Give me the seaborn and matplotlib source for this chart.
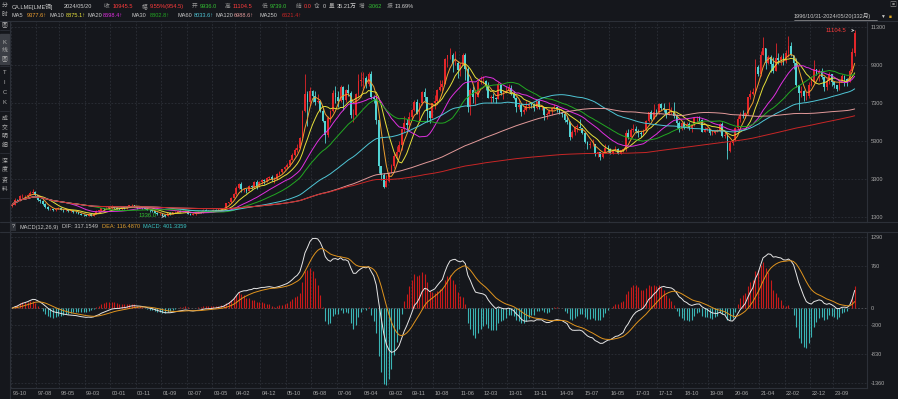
import numpy as np
import pandas as pd
import matplotlib
matplotlib.use('Agg')
import matplotlib.pyplot as plt
import seaborn as sns

# Monthly LME copper bars, 1996-10 .. 2024-05
closes = [
    1950, 2230, 2200,
    2400, 2400, 2400, 2450, 2600, 2650, 2450, 2200, 2150, 2000, 1850, 1720,
    1720, 1680, 1760, 1800, 1700, 1660, 1680, 1620, 1650, 1600, 1580, 1480,
    1430, 1420, 1390, 1470, 1370, 1480, 1640, 1640, 1780, 1740, 1800, 1810,
    1850, 1780, 1760, 1720, 1830, 1790, 1860, 1940, 1950, 1880, 1800, 1820,
    1780, 1740, 1680, 1660, 1620, 1540, 1470, 1480, 1420, 1370, 1500, 1480,
    1560, 1600, 1630, 1600, 1620, 1640, 1490, 1440, 1450, 1570, 1600, 1560,
    1690, 1640, 1590, 1610, 1680, 1650, 1720, 1780, 1800, 2050, 2080, 2320,
    2500, 2850, 3050, 2760, 2760, 2700, 2930, 2900, 3150, 2920, 3170, 3250,
    3200, 3350, 3400, 3290, 3300, 3590, 3700, 3820, 3950, 4070, 4330, 4580,
    4850, 4920, 5470, 6880, 7770, 7350, 7900, 7660, 7350, 7400, 6880, 6350,
    5600, 6500, 6900, 7800, 7600, 7420, 8150, 7450, 8000, 7800, 6650, 6680,
    7750, 8450, 8500, 8600, 8300, 8800, 7600, 7520, 6400, 4000, 3500, 2900,
    3200, 3650, 4000, 4500, 4750, 5100, 5950, 6260, 6150, 6560, 6950, 7350,
    6720, 7300, 7880, 7610, 6900, 6500, 7300, 7410, 8000, 8150, 8300, 9600,
    9800, 9800, 9380, 9400, 9050, 9300, 9800, 9100, 7100, 8000, 7600, 7600,
    8400, 8450, 8450, 8250, 7550, 7600, 7550, 7500, 8300, 7800, 7800, 7900,
    8100, 7750, 7550, 7100, 7200, 6800, 6950, 7150, 7250, 7200, 7050, 7400,
    7100, 7100, 6650, 6700, 6900, 7050, 7100, 7000, 6750, 6700, 6400, 6300,
    5500, 5800, 6050, 6050, 6000, 5720, 5250, 5100, 5150, 5150, 4600, 4700,
    4480, 4680, 4950, 4900, 4680, 4840, 4900, 4620, 4820, 4860, 5700, 5500,
    5900, 5950, 5850, 5700, 5650, 5900, 6350, 6800, 6450, 6850, 6800, 7250,
    7050, 6950, 6700, 6850, 6850, 6600, 6250, 5950, 6250, 5980, 6200, 5980,
    6150, 6500, 6500, 6400, 5800, 5950, 5950, 5700, 5700, 5850, 5900, 6170,
    5560, 5630, 4800, 5200, 5380, 6000, 6450, 6680, 6620, 6750, 7600, 7750,
    7850, 9200, 8800, 9800, 10200, 9400, 9700, 9350, 8950, 9650, 9550, 9700,
    9500, 9900, 10300, 9800, 9400, 8250, 7800, 7950, 7650, 7650, 8250, 8400,
    9100, 8850, 8950, 8650, 8150, 8450, 8800, 8400, 8250, 8050, 8450, 8720,
    8540, 8440, 8960, 9991, 10945.5,
]
highs = [
    2050, 2300, 2280,
    2480, 2500, 2480, 2520, 2700, 2760, 2680, 2480, 2280, 2200, 2050, 1880,
    1800, 1750, 1800, 1860, 1820, 1720, 1740, 1700, 1700, 1680, 1640, 1600,
    1520, 1480, 1450, 1500, 1480, 1500, 1680, 1700, 1800, 1810, 1850, 1860,
    1920, 1880, 1820, 1800, 1850, 1840, 1880, 1960, 2000, 1960, 1900, 1860,
    1850, 1820, 1760, 1720, 1720, 1640, 1580, 1520, 1500, 1430, 1540, 1560,
    1580, 1640, 1680, 1660, 1660, 1700, 1660, 1500, 1520, 1590, 1650, 1640,
    1720, 1730, 1690, 1640, 1720, 1720, 1760, 1800, 1820, 2070, 2120, 2340,
    2560, 2930, 3100, 3170, 2860, 2800, 3000, 2980, 3210, 3250, 3180, 3300,
    3310, 3400, 3450, 3500, 3430, 3640, 3750, 3860, 4000, 4150, 4360, 4650,
    4950, 5130, 5500, 6950, 8800, 7900, 8150, 8000, 7900, 7750, 7400, 7050,
    6350, 6600, 6950, 8000, 8200, 7900, 8250, 8200, 8050, 8300, 7900, 7000,
    7800, 8800, 8900, 8900, 8700, 8900, 8950, 7700, 7600, 6350, 4000, 3600,
    3500, 3700, 4100, 4650, 5050, 5300, 5950, 6600, 6450, 6800, 7000, 7450,
    7500, 7300, 7900, 8100, 7600, 6900, 7300, 7700, 8050, 8500, 8500, 9650,
    9800, 10190, 9900, 10050, 9500, 9400, 9900, 9900, 9200, 8100, 8200, 7900,
    8500, 8700, 8700, 8500, 8400, 7700, 7800, 7600, 8400, 8300, 8000, 8200,
    8300, 8250, 7900, 7600, 7500, 7300, 7100, 7400, 7350, 7350, 7300, 7400,
    7450, 7200, 7100, 6850, 7000, 7100, 7250, 7150, 7000, 6800, 6800, 6600,
    6350, 5900, 6100, 6200, 6450, 6000, 5800, 5300, 5320, 5400, 5100, 4740,
    4700, 4750, 5150, 5100, 4950, 4900, 5050, 4950, 4850, 4900, 5900, 5950,
    6000, 6200, 6100, 5950, 5850, 5950, 6400, 6850, 6950, 7250, 7000, 7300,
    7300, 7300, 7000, 7350, 7100, 7350, 6700, 6350, 6300, 6350, 6300, 6300,
    6200, 6550, 6600, 6600, 6450, 6050, 6050, 5950, 5900, 5900, 5950, 6250,
    6300, 5800, 5700, 5300, 5400, 6050, 6600, 6850, 6950, 6800, 7600, 8000,
    8100, 9600, 9300, 10050, 10750, 10200, 9800, 9800, 9700, 10450, 9900, 9800,
    9900, 10100, 10800, 10500, 9700, 9650, 8100, 8200, 8000, 7850, 8400, 8700,
    9550, 9100, 9100, 9150, 8600, 8600, 8900, 8700, 8450, 8100, 8500, 8800,
    8750, 8600, 9100, 10200, 11104.5,
]
lows = [
    1820, 1940, 2100,
    2180, 2300, 2320, 2340, 2420, 2520, 2400, 2150, 2050, 1960, 1800, 1700,
    1660, 1620, 1640, 1730, 1680, 1580, 1620, 1580, 1580, 1540, 1540, 1460,
    1400, 1380, 1350, 1380, 1360, 1370, 1470, 1580, 1620, 1700, 1720, 1740,
    1760, 1740, 1720, 1680, 1700, 1740, 1760, 1850, 1880, 1840, 1760, 1770,
    1720, 1720, 1660, 1600, 1600, 1520, 1440, 1410, 1390, 1336, 1360, 1440,
    1460, 1520, 1560, 1560, 1570, 1580, 1460, 1400, 1410, 1440, 1540, 1530,
    1540, 1620, 1560, 1560, 1600, 1620, 1630, 1700, 1730, 1790, 1990, 2060,
    2300, 2470, 2760, 2650, 2650, 2550, 2680, 2760, 2860, 2800, 2910, 3050,
    3070, 3150, 3300, 3200, 3080, 3260, 3500, 3640, 3760, 3890, 4000, 4300,
    4500, 4750, 4920, 5450, 6850, 6100, 7200, 7350, 7200, 7300, 6850, 6280,
    5200, 5500, 6300, 6850, 7300, 7100, 7350, 6950, 7350, 7650, 6500, 6300,
    6600, 7600, 8200, 8100, 8100, 8200, 7500, 7300, 6200, 3650, 3250, 2820,
    2900, 3150, 3700, 3900, 4350, 4800, 4850, 5800, 5900, 5950, 6400, 6900,
    6700, 6300, 7200, 7400, 6300, 6250, 6500, 7000, 7300, 7900, 7950, 8300,
    9200, 9600, 8900, 9300, 8600, 8700, 9300, 8500, 6800, 6650, 7300, 7200,
    7600, 8300, 8300, 8000, 7550, 7300, 7350, 7300, 7500, 7700, 7500, 7800,
    7850, 7700, 7500, 6800, 7000, 6600, 6700, 6900, 7000, 7050, 6900, 7000,
    7000, 6950, 6400, 6450, 6700, 6650, 7000, 6800, 6700, 6550, 6300, 6200,
    5350, 5450, 5600, 5800, 6000, 5650, 5200, 4900, 4950, 5050, 4500, 4480,
    4320, 4400, 4650, 4700, 4600, 4600, 4800, 4600, 4600, 4740, 4800, 5400,
    5500, 5800, 5700, 5500, 5500, 5600, 5850, 6300, 6400, 6450, 6600, 6700,
    6950, 6800, 6500, 6650, 6700, 6500, 6000, 5800, 5900, 5950, 6000, 5900,
    5800, 6100, 6300, 6300, 5800, 5750, 5850, 5600, 5600, 5650, 5800, 5800,
    5500, 5450, 4370, 4750, 5100, 5300, 5900, 6300, 6500, 6500, 6650, 7500,
    7700, 7800, 8700, 8700, 9800, 9100, 9350, 8900, 8850, 9200, 9350, 9300,
    9300, 9400, 9700, 9750, 9100, 8120, 6950, 7600, 7400, 7450, 7550, 8200,
    8350, 8750, 8450, 8550, 7900, 8000, 8300, 8200, 8100, 7900, 8000, 8400,
    8200, 8200, 8400, 8900, 9739,
]
first_open = 1900.0
last_open = 9936.0

ma_windows = [5, 10, 20, 30, 60, 120, 250]
ma_colors = ['#f0a030', '#e6e03a', '#e030e0', '#22a822', '#4fc6d6', '#e39a9a', '#c82626']

x_tick_labels = ['96-10', '97-08', '98-05', '99-03', '00-01', '00-11', '01-09', '02-07',
                 '03-05', '04-02', '04-12', '05-10', '06-08', '07-06', '08-04', '09-02',
                 '09-11', '10-08', '11-06', '12-03', '13-01', '13-11', '14-09', '15-07',
                 '16-05', '17-03', '17-12', '18-10', '19-08', '20-06', '21-04', '22-02',
                 '22-12', '23-09']
price_ticks = [1300, 3300, 5300, 7300, 9300, 11300]
macd_ticks = [1290, 760, 0, -300, -830, -1360]

# header strings shown by the terminal
header_row1 = [('CA.LME[LME铜]', 12, 'w'), ('2024/05/20', 64, 'w'),
               ('收', 104, 'g'), ('10945.5', 113, 'r'),
               ('幅', 142, 'g'), ('9.55%(954.5)', 150, 'r'),
               ('开', 192, 'g'), ('9936.0', 200, 'gr'),
               ('高', 225, 'g'), ('11104.5', 233, 'r'),
               ('低', 262, 'g'), ('9739.0', 270, 'gr'),
               ('结', 296, 'g'), ('0.0', 304, 'r'),
               ('仓', 314, 'g'), ('0', 323, 'w'),
               ('量', 329, 'g'), ('35.21万', 337, 'w'),
               ('增', 359, 'g'), ('-3062', 368, 'gr'),
               ('振', 387, 'g'), ('13.69%', 395, 'w')]
ma_header = [('MA5', '9377.6↑', 12, 27), ('MA10', '8875.1↑', 49, 66),
             ('MA20', '8698.4↑', 87, 103), ('MA30', '8802.8↑', 132, 150),
             ('MA60', '8033.6↑', 178, 194), ('MA120', '6988.6↑', 215, 234),
             ('MA250', '6621.4↑', 260, 282)]
macd_header = [('MACD(12,26,9)', 19, '#c8c8c8'), ('DIF: 317.1549', 62, '#c8c8c8'),
               ('DEA: 116.4870', 102, '#e0a030'), ('MACD: 401.3359', 143, '#3cc6c6')]

bg = '#15171c'
grid_c = '#2c3038'
txt = '#a8a8a8'
up_c = '#e3262a'
dn_c = '#52d4d4'
tone = {'w': '#d0d0d0', 'g': '#9a9a9a', 'r': '#ff3b3b', 'gr': '#33c233'}

# ---- data frame and indicators
n = len(closes)
df = pd.DataFrame({'close': closes, 'high': highs, 'low': lows})
df['open'] = df['close'].shift(1)
df.loc[0, 'open'] = first_open
df.loc[n - 1, 'open'] = last_open
df['high'] = np.maximum(df['high'], df[['open', 'close']].max(axis=1))
df['low'] = np.minimum(df['low'], df[['open', 'close']].min(axis=1))
df['idx'] = np.arange(n)
months = pd.date_range('1996-10-01', periods=n, freq='MS').strftime('%y-%m').tolist()

for w in ma_windows:
    df[f'MA{w}'] = df['close'].rolling(w, min_periods=1).mean()
ma_long = df.melt(id_vars='idx', value_vars=[f'MA{w}' for w in ma_windows],
                  var_name='ma', value_name='value')

ema12 = df['close'].ewm(span=12, adjust=False).mean()
ema26 = df['close'].ewm(span=26, adjust=False).mean()
df['dif'] = ema12 - ema26
df['dea'] = df['dif'].ewm(span=9, adjust=False).mean()
df['hist'] = 2 * (df['dif'] - df['dea'])

# ---- figure
sns.set_theme(style='dark', rc={
    'figure.facecolor': bg, 'axes.facecolor': bg, 'axes.edgecolor': grid_c,
    'text.color': txt, 'xtick.color': txt, 'ytick.color': txt,
    'axes.linewidth': 0.8,
})
plt.rcParams['font.family'] = ['Liberation Sans', 'Noto Sans CJK SC', 'DejaVu Sans']

W, H = 898, 399
fig = plt.figure(figsize=(W / 100, H / 100), dpi=100)
ax1 = fig.add_axes([11 / W, (H - 222) / H, 856 / W, 201 / H])
ax2 = fig.add_axes([11 / W, 11 / H, 856 / W, 156 / H])

xmax = 856 / 2.545 - 0.5
tick_pos = [months.index(t) for t in x_tick_labels]

for ax in (ax1, ax2):
    ax.set_xlim(-0.5, xmax)
    ax.set_xticks(tick_pos)
    for x in tick_pos:
        ax.axvline(x - 0.5, color=grid_c, lw=0.6, ls=(0, (2, 2)), zorder=0)
    ax.yaxis.tick_right()
    ax.tick_params(axis='both', length=0, labelsize=4.0, pad=2.5, colors=txt)
    for s in ('left', 'top'):
        ax.spines[s].set_visible(False)

# candles
up = df['close'] >= df['open']
body_lo = df[['open', 'close']].min(axis=1)
body_h = (df['close'] - df['open']).abs().clip(lower=20)
colors = np.where(up, up_c, dn_c)
ax1.vlines(df['idx'], df['low'], df['high'], colors=colors, lw=0.6, zorder=2)
ax1.bar(df['idx'], body_h, bottom=body_lo, width=0.7, color=colors, lw=0, zorder=3)

sns.lineplot(data=ma_long, x='idx', y='value', hue='ma',
             palette=dict(zip([f'MA{w}' for w in ma_windows], ma_colors)),
             linewidth=0.7, legend=False, errorbar=None, ax=ax1, zorder=4)
ax1.set_ylim(1054, 11598)
ax1.set_yticks(price_ticks)
ax1.set_yticklabels([str(v) for v in price_ticks])
for v in price_ticks:
    ax1.axhline(v, color=grid_c, lw=0.6, ls=(0, (2, 2)), zorder=0)
ax1.set_xticklabels([])
ax1.set_xlabel('')
ax1.set_ylabel('')

# high / low markers
ih = int(df['high'].idxmax())
il = int(df['low'].idxmin())
ax1.annotate(f"{df.loc[ih, 'high']:.1f}", xy=(ih, df.loc[ih, 'high']), xytext=(-6, 0),
             textcoords='offset points', ha='right', va='center', fontsize=4.2,
             color='#ff3b3b', arrowprops=dict(arrowstyle='->', color='#c8c8c8', lw=0.5))
ax1.annotate(f"{df.loc[il, 'low']:.1f}", xy=(il, df.loc[il, 'low']), xytext=(-6, 1),
             textcoords='offset points', ha='right', va='center', fontsize=4.2,
             color='#33c233', arrowprops=dict(arrowstyle='->', color='#c8c8c8', lw=0.5))

# MACD panel
hist_c = np.where(df['hist'] >= 0, '#c81a1a', '#3ab4b4')
ax2.vlines(df['idx'], 0, df['hist'], colors=hist_c, lw=0.8, zorder=2)
macd_long = df.melt(id_vars='idx', value_vars=['dif', 'dea'], var_name='line', value_name='value')
sns.lineplot(data=macd_long, x='idx', y='value', hue='line',
             palette={'dif': '#e6e6e6', 'dea': '#e0941e'},
             linewidth=0.7, legend=False, errorbar=None, ax=ax2, zorder=3)
ax2.set_ylim(-1445, 1375)
ax2.set_yticks(macd_ticks)
ax2.set_yticklabels([str(v) for v in macd_ticks])
for v in macd_ticks:
    ax2.axhline(v, color=grid_c if v else '#55585e', lw=0.6, ls=(0, (2, 2)), zorder=0)
ax2.set_xticklabels(x_tick_labels, ha='left')
ax2.set_xlabel('')
ax2.set_ylabel('')


# ---- header / side bar text
def px(x, y):
    return x / W, 1 - y / H


fs = 4.1
for s, x, c in header_row1:
    fig.text(*px(x, 6.5), s, color=tone[c], fontsize=fs, va='center')
for k, (name, val, x1, x2) in enumerate(ma_header):
    fig.text(*px(x1, 15.5), name, color='#c8c8c8', fontsize=fs, va='center')
    fig.text(*px(x2, 15.5), val, color=ma_colors[k], fontsize=fs, va='center')
fig.text(*px(794, 16), '1996/10/31-2024/05/20(332月)', color='#c8c8c8', fontsize=fs,
         va='center')
fig.add_artist(plt.Line2D([794 / W, 877 / W], [1 - 19.5 / H] * 2, color='#c8c8c8', lw=0.4))
fig.text(*px(880, 16), '▼', color='#c8c8c8', fontsize=3.5, va='center')
fig.text(*px(889, 16.5), '■', color='#d4a020', fontsize=3.5, va='center')
fig.text(*px(889, 5.5), '▣', color='#888888', fontsize=5, va='center')

fig.text(*px(13, 227), '?', color='#c8c8c8', fontsize=fs, va='center', ha='center',
         bbox=dict(boxstyle='square,pad=0.2', fc='#2e3138', ec='none'))
for s, x, c in macd_header:
    fig.text(*px(x, 227), s, color=c, fontsize=fs, va='center')

# horizontal separators
for y in (21, 222, 232):
    fig.add_artist(plt.Line2D([0, 1], [1 - y / H] * 2, color=grid_c, lw=0.8))
fig.add_artist(plt.Line2D([10 / W] * 2, [0, 1 - 21 / H], color=grid_c, lw=0.8))

# left tab bar
fig.patches.append(plt.Rectangle((0, 1 - 64 / H), 9 / W, 30 / H, transform=fig.transFigure,
                                 color='#3b3e45', zorder=0))
side = [('分', 6), ('时', 15), ('图', 24), ('K', 42), ('线', 50), ('图', 58),
        ('T', 73), ('I', 83), ('C', 93), ('K', 103),
        ('成', 118), ('交', 127), ('明', 136), ('细', 145),
        ('深', 161), ('度', 170), ('资', 180), ('料', 189)]
for ch, y in side:
    fig.text(*px(4.5, y), ch, color='#b0b0b0', fontsize=4.2, ha='center', va='center')
for y in (30, 66, 111, 153, 198):
    fig.add_artist(plt.Line2D([0, 9 / W], [1 - y / H] * 2, color=grid_c, lw=0.6))

fig.savefig('out.png', dpi=100, facecolor=bg)
